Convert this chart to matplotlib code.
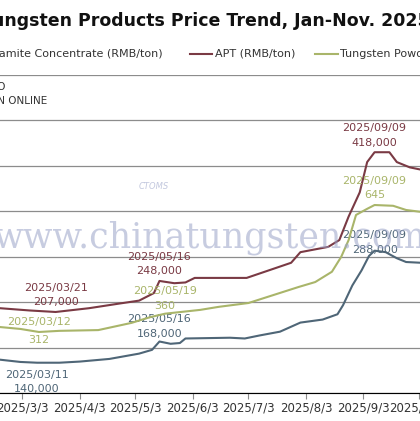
import numpy as np
import pandas as pd
from matplotlib import pyplot as plt

# wolframite concentrate (RMB/ton)
w_dates = ['2025-02-19','2025-03-02','2025-03-11','2025-03-23','2025-04-03','2025-04-19','2025-05-05',
           '2025-05-12','2025-05-16','2025-05-22','2025-05-27','2025-05-30','2025-06-23','2025-07-01',
           '2025-07-09','2025-07-20','2025-07-31','2025-08-12','2025-08-20','2025-08-23','2025-08-28',
           '2025-09-02','2025-09-06','2025-09-09','2025-09-15','2025-09-21','2025-09-26','2025-10-04']
w_vals = [144000,141000,140000,140000,141500,145000,152000,157000,168000,165000,166000,172000,173000,172000,
          176000,181000,193000,197000,204000,216000,242000,262000,281000,288000,286000,278000,273000,272000]

# APT (RMB/ton)
a_dates = ['2025-02-19','2025-03-07','2025-03-21','2025-04-08','2025-04-24','2025-05-05','2025-05-13',
           '2025-05-16','2025-05-24','2025-05-30','2025-06-04','2025-07-02','2025-07-26','2025-07-31',
           '2025-08-15','2025-08-21','2025-08-26','2025-09-01','2025-09-05','2025-09-09','2025-09-17',
           '2025-09-21','2025-09-28','2025-10-04']
a_vals = [212000,209000,207000,212000,218000,222000,232000,248000,245000,246000,252000,252000,272000,286000,
          293000,302000,333000,365000,405000,418000,418000,405000,398000,395000]

# tungsten powder (RMB/kg)
p_dates = ['2025-02-19','2025-03-02','2025-03-12','2025-03-23','2025-04-13','2025-05-01','2025-05-11',
           '2025-05-19','2025-06-07','2025-06-17','2025-07-03','2025-07-30','2025-08-08','2025-08-17',
           '2025-08-22','2025-08-26','2025-08-30','2025-09-05','2025-09-09','2025-09-19','2025-09-26','2025-10-04']
p_vals = [325,320,312,315,317,336,351,360,370,378,388,430,443,470,509,553,619,635,645,643,632,627]

xticks = ['2025-03-03','2025-04-03','2025-05-03','2025-06-03','2025-07-03','2025-08-03','2025-09-03','2025-10-03']
xlabels = ['2025/3/3','2025/4/3','2025/5/3','2025/6/3','2025/7/3','2025/8/3','2025/9/3','2025/10/3']

c_w = '#4f6677'
c_a = '#7a3a44'
c_p = '#a9b56a'

fig = plt.figure(figsize=(4.2, 4.21), dpi=100)
ax = fig.add_axes([0, 28/421, 1, 318/421])
ax2 = ax.twinx()

ax.plot(pd.to_datetime(w_dates), w_vals, color=c_w, lw=1.5)
ax.plot(pd.to_datetime(a_dates), a_vals, color=c_a, lw=1.5)
ax2.plot(pd.to_datetime(p_dates), p_vals, color=c_p, lw=1.5)

ax.set_xlim(pd.Timestamp('2025-02-19'), pd.Timestamp('2025-10-03 12:00'))
ax.set_ylim(100000, 520000)
ax2.set_ylim(152, 986)
ax.set_yticks(np.arange(100000, 520001, 60000))
ax.grid(axis='y', color='#8c8c8c', lw=0.9)
ax.set_axisbelow(True)
for a in (ax, ax2):
    for s in ['left', 'right', 'top']:
        a.spines[s].set_visible(False)
    a.tick_params(axis='y', length=0, labelleft=False, labelright=False)
ax.spines['bottom'].set_color('#8c8c8c')
ax.set_xticks(pd.to_datetime(xticks))
ax.set_xticklabels(xlabels, fontsize=8.5, color='#333333')
ax.tick_params(axis='x', color='#8c8c8c', length=4, pad=2)

# watermark
fig.text(0.5, 0.435, 'www.chinatungsten.com', fontsize=25, family='DejaVu Serif',
         color='#9aa3c8', alpha=0.55, ha='center', va='center')
fig.text(0.33, 0.55, 'CTOMS', fontsize=6, color='#9aa3c8', alpha=0.6, style='italic')

# annotations
fs = 8
ax.text(pd.Timestamp('2025-03-11'), 140000 - 9000, '2025/03/11\n140,000', color=c_w, fontsize=fs,
        ha='center', va='top', linespacing=1.6)
ax.text(pd.Timestamp('2025-05-16'), 168000 + 3000, '2025/05/16\n168,000', color=c_w, fontsize=fs,
        ha='center', va='bottom', linespacing=1.6)
ax.text(pd.Timestamp('2025-09-09'), 288000 - 6000, '2025/09/09\n288,000', color=c_w, fontsize=fs,
        ha='center', va='bottom', linespacing=1.6)
ax.text(pd.Timestamp('2025-03-21'), 207000 + 6000, '2025/03/21\n207,000', color=c_a, fontsize=fs,
        ha='center', va='bottom', linespacing=1.6)
ax.text(pd.Timestamp('2025-05-16'), 248000 + 6000, '2025/05/16\n248,000', color=c_a, fontsize=fs,
        ha='center', va='bottom', linespacing=1.6)
ax.text(pd.Timestamp('2025-09-09'), 418000 + 6000, '2025/09/09\n418,000', color=c_a, fontsize=fs,
        ha='center', va='bottom', linespacing=1.6)
ax2.text(pd.Timestamp('2025-03-12'), 312 + 12, '2025/03/12', color=c_p, fontsize=fs, ha='center', va='bottom')
ax2.text(pd.Timestamp('2025-03-12'), 312 - 8, '312', color=c_p, fontsize=fs, ha='center', va='top')
ax2.text(pd.Timestamp('2025-05-19'), 360 + 8, '2025/05/19\n360', color=c_p, fontsize=fs,
         ha='center', va='bottom', linespacing=1.6)
ax2.text(pd.Timestamp('2025-09-09'), 645 + 12, '2025/09/09\n645', color=c_p, fontsize=fs,
         ha='center', va='bottom', linespacing=1.6)

# title, legend, notes
fig.text(0.49, 0.95, 'Tungsten Products Price Trend, Jan-Nov. 2025', fontsize=12.5, fontweight='bold',
         ha='center', va='center', color='#111111')
ly = 1 - 54/421
fig.text(163/420, ly, 'Wolframite Concentrate (RMB/ton)', fontsize=8, ha='right', va='center',
         color='#333333')
fig.lines.append(plt.Line2D([190/420, 212/420], [ly, ly], color=c_a, lw=1.5, transform=fig.transFigure))
fig.text(215/420, ly, 'APT (RMB/ton)', fontsize=8, va='center', color='#333333')
fig.lines.append(plt.Line2D([315/420, 338/420], [ly, ly], color=c_p, lw=1.5, transform=fig.transFigure))
fig.text(340/420, ly, 'Tungsten Powder (RMB/kg)', fontsize=8, va='center', color='#333333')
fig.text(6/420, 1 - 87/421, 'DATA: CTIA INFO', fontsize=7.5, ha='right', va='center', color='#333333')
fig.text(47/420, 1 - 101/421, 'CHINATUNGSTEN ONLINE', fontsize=7.5, ha='right', va='center', color='#333333')

plt.savefig('out.png', dpi=100)
